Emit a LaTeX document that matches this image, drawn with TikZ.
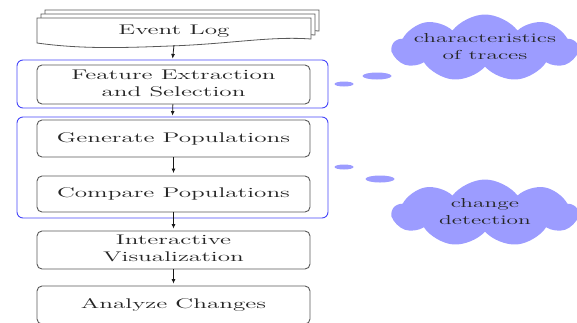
\documentclass[tikz,border=0pt]{standalone}
\usepackage{graphicx}
\usetikzlibrary{shapes.symbols,shapes.geometric,arrows.meta}
\definecolor{cloudc}{RGB}{156,156,255}
\definecolor{grpc}{RGB}{70,70,250}
\newcommand{\wt}[1]{\scalebox{1.8}[1]{#1}}
\newcommand{\wtt}[2]{\scalebox{1.8}[1]{\begin{tabular}{@{}c@{}}#1\\#2\end{tabular}}}
\tikzset{
  stepbox/.style={draw=black!65, line width=0.9pt, rounded corners=5pt, fill=white,
    minimum width=273pt, inner sep=0pt, text=black!85,
    font=\fontsize{14}{17}\selectfont},
  grpbox/.style={draw=grpc, line width=0.9pt, rounded corners=6pt, minimum width=311pt, inner sep=0pt},
  sheet/.style={draw=black!65, line width=0.8pt, fill=white},
  flow/.style={-{Latex[length=4.5pt,width=4pt]}, line width=0.8pt, black!90, shorten >=1pt},
  cloudnode/.style={cloud, cloud puffs=9, cloud puff arc=105, aspect=2.76, fill=cloudc,
    minimum width=185pt, minimum height=67pt, inner sep=0pt},
  cloudtext/.style={inner sep=0pt, text=black!85, font=\fontsize{13}{17}\selectfont},
  bubble/.style={ellipse, fill=cloudc, inner sep=0pt}
}
\begin{document}
\begin{tikzpicture}[x=1pt,y=-1pt]
\useasboundingbox (0,0) rectangle (577,322);
% event log sheets
\foreach \d in {8,4,0}{
  \begin{scope}[shift={(\d,-\d)}]
    \draw[sheet] (37,18) -- (311,18) -- (311,39)
      .. controls (270,36) and (230,44) .. (170,46)
      .. controls (120,48) and (80,49) .. (37,43) -- cycle;
  \end{scope}
}
\node[minimum width=274pt, minimum height=28pt, inner sep=0pt, text=black!85,
  font=\fontsize{14}{17}\selectfont] (evlog) at (174,31) {\wt{Event Log}};
% groups
\node[grpbox, minimum height=48pt] (g1) at (172.5,84) {};
\node[grpbox, minimum height=101pt] (g2) at (172.5,167.5) {};
% steps
\node[stepbox, minimum height=39pt] (feat) at (173.5,84.5) {\wtt{Feature Extraction}{and Selection}};
\node[stepbox, minimum height=37pt] (gen) at (173.5,138.5) {\wt{Generate Populations}};
\node[stepbox, minimum height=36pt] (cmp) at (173.5,194) {\wt{Compare Populations}};
\node[stepbox, minimum height=38pt] (vis) at (173.5,250) {\wtt{Interactive}{Visualization}};
\node[stepbox, minimum height=38pt] (ana) at (173.5,305) {\wt{Analyze Changes}};
% arrows
\draw[flow] (evlog.south) -- (g1.north);
\draw[flow] (feat) -- (g2.north);
\draw[flow, shorten >=2.5pt] (gen) -- (cmp);
\draw[flow, shorten >=2pt] (cmp) -- (vis);
\draw[flow, shorten >=2pt] (vis) -- (ana);
% clouds
\node[cloudnode] (c1) at (485,48) {};
\node[cloudtext] (c1t) at (c1.center) {\wtt{characteristics}{of traces}};
\node[cloudnode] (c2) at (485,213) {};
\node[cloudtext] (c2t) at (c2.center) {\wtt{change}{detection}};
\node[bubble, minimum width=19pt, minimum height=5pt] (b1a) at (344,84) {};
\node[bubble, minimum width=29pt, minimum height=7pt] (b1b) at (377,76) {};
\node[bubble, minimum width=19pt, minimum height=5pt] (b2a) at (344,167) {};
\node[bubble, minimum width=29pt, minimum height=7pt] (b2b) at (380,179) {};
\end{tikzpicture}
\end{document}
